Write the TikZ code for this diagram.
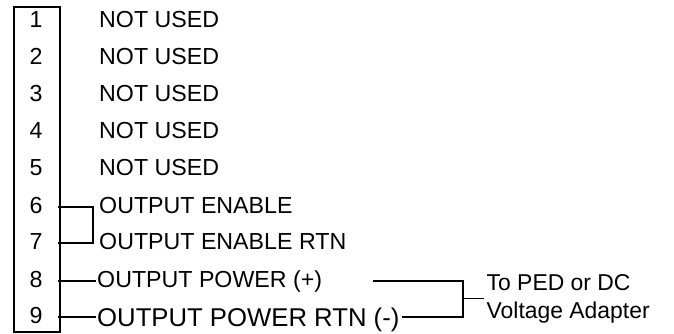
\documentclass[tikz,border=0pt]{standalone}
\usepackage{fontspec}
\setmainfont{Liberation Sans}
\begin{document}
\begin{tikzpicture}[x=1pt,y=-1pt,
  lbl/.style={anchor=base west, inner sep=0pt, font=\fontsize{23.2}{27}\selectfont},
  biglbl/.style={anchor=base west, inner sep=0pt, font=\fontsize{25.7}{30}\selectfont},
  pinnum/.style={anchor=base, inner sep=0pt, font=\fontsize{23.2}{27}\selectfont},
  note/.style={anchor=base west, inner sep=0pt, font=\fontsize{22.9}{27}\selectfont},
  wire/.style={line width=1.6pt, line join=miter, line cap=rect}]
\useasboundingbox (0,0) rectangle (674,333);

% connector body
\node[draw, line width=1.8pt, minimum width=46pt, minimum height=325pt,
      inner sep=0pt, anchor=north west] (conn) at (13,6) {};

% pin numbers and signal names
\foreach \i/\y in {1/20.2,2/57.5,3/94.5,4/131.5,5/168.8,6/206.7,7/242.7,8/280.7,9/316.7}{
  \coordinate (pin\i) at (59,\y);
  \node[pinnum] (num\i) at (36,\y+7) {\i};
}
\foreach \i in {1,...,5}{
  \path (pin\i) ++(40,7) node[lbl] (lab\i) {NOT USED};
}
\path (pin6) ++(40,7) node[lbl] (lab6) {OUTPUT ENABLE};
\path (pin7) ++(40,7) node[lbl] (lab7) {OUTPUT ENABLE RTN};
\path (pin8) ++(38,7) node[lbl] (lab8) {OUTPUT POWER (+)};
\path (pin9) ++(38,10) node[biglbl] (lab9) {OUTPUT POWER RTN (-)};

% enable loop between pins 6 and 7
\coordinate (loopA) at (93,206.7);
\coordinate (loopB) at (93,242.7);
\draw[wire] (pin6) -- (loopA) -- (loopB) -- (pin7);

% power leads
\coordinate (lead8) at (95,280.7);
\coordinate (lead9) at (95,316.7);
\draw[wire] (pin8) -- (lead8);
\draw[wire] (pin9) -- (lead9);

% bracket to the external supply
\coordinate (brA) at (374,280.7);
\coordinate (brB) at (463,280.7);
\coordinate (brC) at (463,316.7);
\coordinate (brD) at (403,316.7);
\coordinate (brM) at (463,298.5);
\coordinate (brE) at (483,298.5);
\draw[wire] (brA) -- (brB) -- (brC) -- (brD);
\draw[wire] (brM) -- (brE);

\node[note] (dest1) at (486.5,290.3) {To PED or DC};
\node[note] (dest2) at (486.5,318.7) {Voltage Adapter};
\end{tikzpicture}
\end{document}
